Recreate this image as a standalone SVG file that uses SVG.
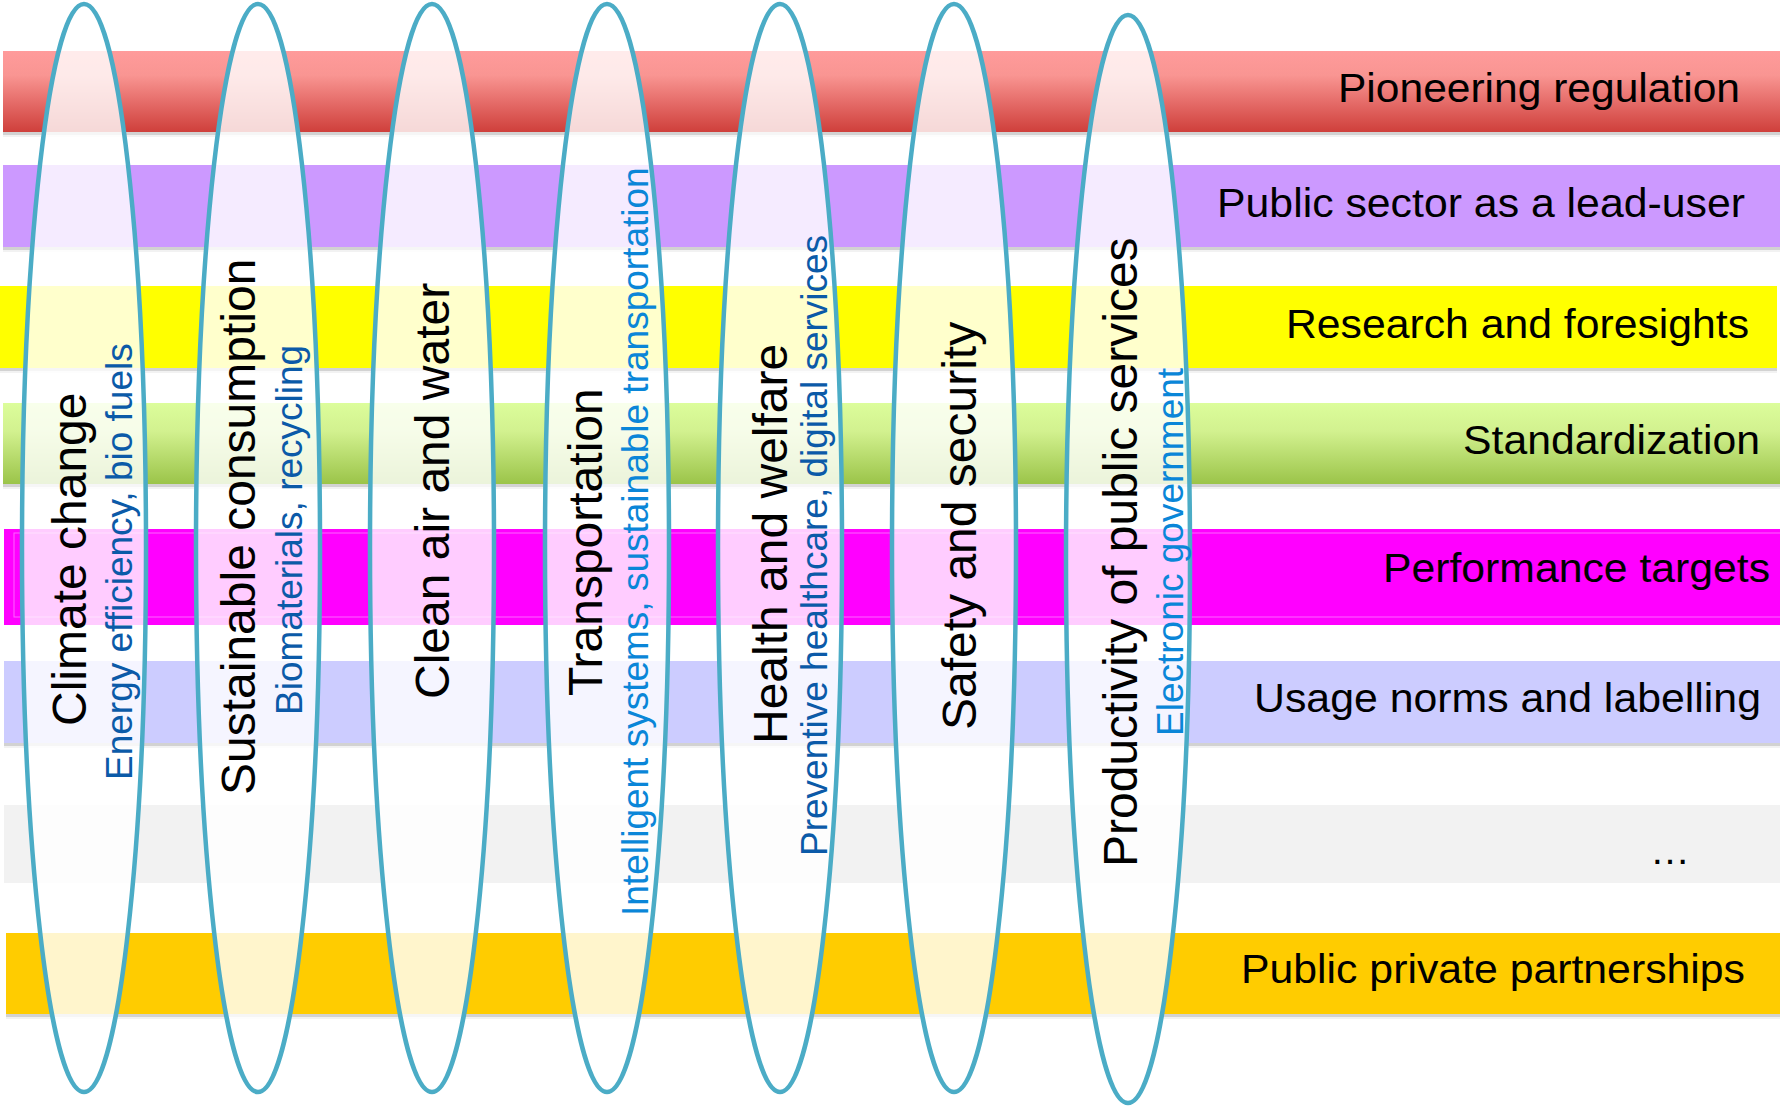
<svg xmlns="http://www.w3.org/2000/svg" width="1780" height="1106" viewBox="0 0 1780 1106">
<defs>
<linearGradient id="gRed" x1="0" y1="0" x2="0" y2="1">
<stop offset="0" stop-color="#ff9b9b"/>
<stop offset="0.3" stop-color="#f99592"/>
<stop offset="1" stop-color="#cf3f3b"/>
</linearGradient>
<linearGradient id="gGreen" x1="0" y1="0" x2="0" y2="1">
<stop offset="0" stop-color="#dcfd9b"/>
<stop offset="0.35" stop-color="#d2f18f"/>
<stop offset="1" stop-color="#9bc449"/>
</linearGradient>
<style>
.sh1{fill:#d2d2d2}
.sh2{fill:#f2f2f2}
.lbl{font-family:"Liberation Sans",Arial,sans-serif;font-size:40px;fill:#000}
.ell{fill:#ffffff;fill-opacity:0.8;stroke:#4bacc6;stroke-width:4.5}
.main{font-family:"Liberation Sans",Arial,sans-serif;font-size:48px;fill:#000}
.subd{font-family:"Liberation Sans",Arial,sans-serif;font-size:37px;fill:#0b5aa8}
.subl{font-family:"Liberation Sans",Arial,sans-serif;font-size:37px;fill:#0a86d8}
</style>
</defs>
<rect x="0" y="0" width="1780" height="1106" fill="#ffffff"/>

<g id="bands">
<g id="band-pioneering">
<rect x="3" y="51" width="1777" height="81" fill="url(#gRed)"/>
<rect class="sh1" x="3" y="132" width="1777" height="3"/>
<rect class="sh2" x="3" y="135" width="1777" height="2"/>
<text class="lbl" x="1338" y="102" textLength="402" lengthAdjust="spacingAndGlyphs">Pioneering regulation</text>
</g>
<g id="band-public-sector">
<rect x="3" y="165" width="1777" height="82" fill="#cc99ff"/>
<rect class="sh1" x="3" y="247" width="1777" height="3"/>
<rect class="sh2" x="3" y="250" width="1777" height="2"/>
<text class="lbl" x="1217" y="217" textLength="528" lengthAdjust="spacingAndGlyphs">Public sector as a lead-user</text>
</g>
<g id="band-research">
<rect x="0" y="286" width="1777" height="82" fill="#ffff00"/>
<rect class="sh1" x="0" y="368" width="1777" height="3"/>
<rect class="sh2" x="0" y="371" width="1777" height="2"/>
<text class="lbl" x="1286" y="338" textLength="463" lengthAdjust="spacingAndGlyphs">Research and foresights</text>
</g>
<g id="band-standardization">
<rect x="3" y="403" width="1777" height="81" fill="url(#gGreen)"/>
<rect class="sh1" x="3" y="484" width="1777" height="3"/>
<rect class="sh2" x="3" y="487" width="1777" height="2"/>
<text class="lbl" x="1463" y="454" textLength="297" lengthAdjust="spacingAndGlyphs">Standardization</text>
</g>
<g id="band-performance">
<rect x="4" y="529" width="1776" height="96" fill="#ff00ff"/>
<rect x="14" y="533" width="1770" height="84" fill="none" stroke="#ffc8ff" stroke-width="1" stroke-opacity="0.5"/>
<text class="lbl" x="1383" y="582" textLength="387" lengthAdjust="spacingAndGlyphs">Performance targets</text>
</g>
<g id="band-usage">
<rect x="4" y="661" width="1776" height="82" fill="#ccccff"/>
<rect class="sh1" x="4" y="743" width="1776" height="3"/>
<rect class="sh2" x="4" y="746" width="1776" height="2"/>
<text class="lbl" x="1254" y="712" textLength="507" lengthAdjust="spacingAndGlyphs">Usage norms and labelling</text>
</g>
<g id="band-more">
<rect x="4" y="805" width="1776" height="78" fill="#f2f2f2"/>
<text class="lbl" x="1650" y="864" font-size="44">…</text>
</g>
<g id="band-ppp">
<rect x="6" y="933" width="1774" height="81" fill="#ffcc00"/>
<rect class="sh1" x="6" y="1014" width="1774" height="3"/>
<rect class="sh2" x="6" y="1017" width="1774" height="2"/>
<text class="lbl" x="1241" y="983" textLength="504" lengthAdjust="spacingAndGlyphs">Public private partnerships</text>
</g>
</g>

<g id="connectors"/>

<g id="node-climate">
<ellipse class="ell" cx="84" cy="548" rx="62" ry="544"/>
<text class="main" transform="translate(86 726) rotate(-90)">Climate change</text>
<text class="subd" transform="translate(132 780) rotate(-90)">Energy efficiency, bio fuels</text>
</g>
<g id="node-sustainable">
<ellipse class="ell" cx="258" cy="548" rx="62" ry="544"/>
<text class="main" transform="translate(255 795) rotate(-90)">Sustainable consumption</text>
<text class="subd" transform="translate(302 715) rotate(-90)">Biomaterials, recycling</text>
</g>
<g id="node-clean">
<ellipse class="ell" cx="432" cy="548" rx="62" ry="544"/>
<text class="main" transform="translate(449 699) rotate(-90)">Clean air and water</text>
</g>
<g id="node-transportation">
<ellipse class="ell" cx="607" cy="548" rx="62" ry="544"/>
<text class="main" transform="translate(602 696) rotate(-90)">Transportation</text>
<text class="subl" transform="translate(648 916) rotate(-90)">Intelligent systems, sustainable transportation</text>
</g>
<g id="node-health">
<ellipse class="ell" cx="780" cy="548" rx="62" ry="544"/>
<text class="main" transform="translate(787 744) rotate(-90)">Health and welfare</text>
<text class="subd" transform="translate(827 856) rotate(-90)">Preventive healthcare, digital services</text>
</g>
<g id="node-safety">
<ellipse class="ell" cx="954" cy="548" rx="62" ry="544"/>
<text class="main" transform="translate(976 730) rotate(-90)">Safety and security</text>
</g>
<g id="node-productivity">
<ellipse class="ell" cx="1128" cy="559" rx="62" ry="544"/>
<text class="main" transform="translate(1137 867) rotate(-90)">Productivity of public services</text>
<text class="subl" transform="translate(1183 736) rotate(-90)">Electronic government</text>
</g>
</svg>
